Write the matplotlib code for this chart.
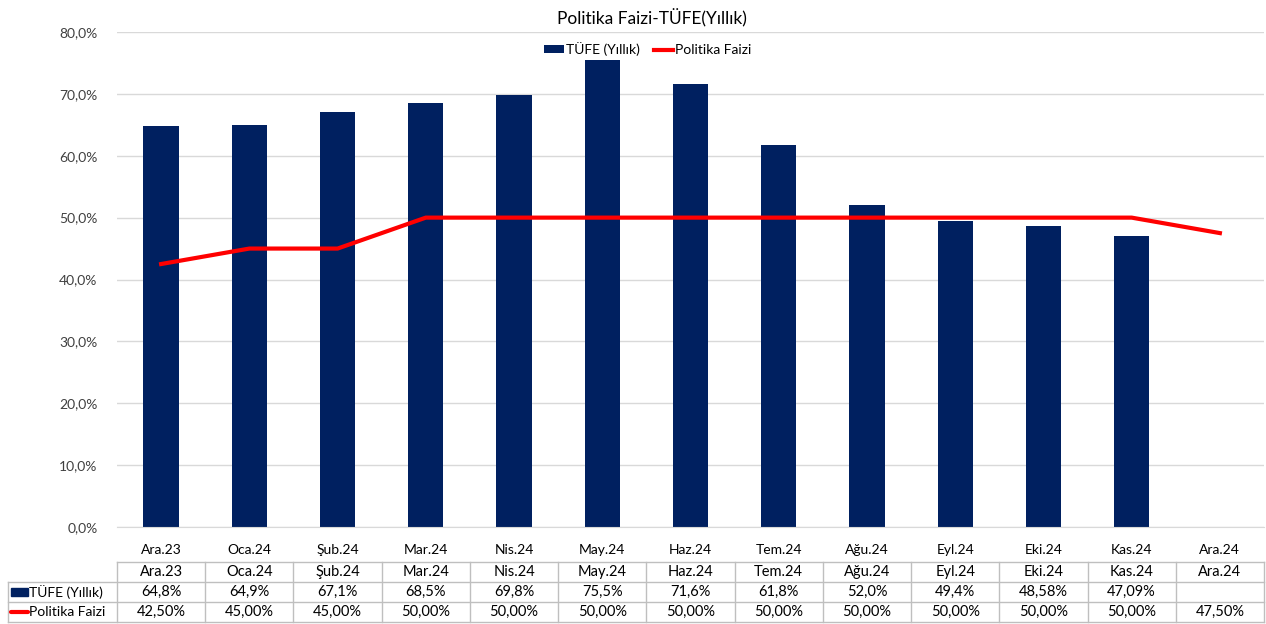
import numpy as np
import matplotlib.pyplot as plt
from matplotlib import transforms

plt.rcParams['font.family'] = ['Lato', 'DejaVu Sans']

# Veriler
aylar = ['Ara.23', 'Oca.24', 'Şub.24', 'Mar.24', 'Nis.24', 'May.24', 'Haz.24',
         'Tem.24', 'Ağu.24', 'Eyl.24', 'Eki.24', 'Kas.24', 'Ara.24']
tufe = [64.8, 64.9, 67.1, 68.5, 69.8, 75.5, 71.6, 61.8, 52.0, 49.4, 48.58, 47.09, np.nan]
faiz = [42.5, 45.0, 45.0, 50.0, 50.0, 50.0, 50.0, 50.0, 50.0, 50.0, 50.0, 50.0, 47.5]
tufe_txt = ['64,8%', '64,9%', '67,1%', '68,5%', '69,8%', '75,5%', '71,6%',
            '61,8%', '52,0%', '49,4%', '48,58%', '47,09%', '']
faiz_txt = ['42,50%', '45,00%', '45,00%', '50,00%', '50,00%', '50,00%', '50,00%',
            '50,00%', '50,00%', '50,00%', '50,00%', '50,00%', '47,50%']
yticks = [0, 10, 20, 30, 40, 50, 60, 70, 80]

lacivert = '#002060'
kirmizi = '#FF0000'
gri = '#BFBFBF'

W, H = 1266, 624
fig = plt.figure(figsize=(W / 100, H / 100), dpi=100)
ax = fig.add_axes([117 / W, (H - 527) / H, (1264 - 117) / W, (527 - 32) / H])

x = np.arange(len(aylar))
cubuk = ax.bar(x, tufe, width=0.4, color=lacivert, label='TÜFE (Yıllık)', zorder=2)
cizgi, = ax.plot(x, faiz, color=kirmizi, lw=3, label='Politika Faizi', zorder=3)

ax.set_xlim(-0.5, len(aylar) - 0.5)
ax.set_ylim(0, 80)
ax.set_yticks(yticks)
ax.set_yticklabels([f'{v},0%' for v in yticks], fontsize=10, color='#404040')
ax.grid(axis='y', color='#D9D9D9', lw=1)
ax.set_axisbelow(True)
ax.tick_params(axis='y', length=0, pad=14)
ax.set_xticks(x)
ax.set_xticklabels(aylar, fontsize=10, color='#000000')
ax.tick_params(axis='x', length=0, pad=12)
for s in ['top', 'right', 'left']:
    ax.spines[s].set_visible(False)
ax.spines['bottom'].set_color('#D9D9D9')

fig.text(652 / W, 1 - 18 / H, 'Politika Faizi-TÜFE(Yıllık)', fontsize=12.5,
         ha='center', va='center')
fig.legend([cubuk, cizgi], ['TÜFE (Yıllık)', 'Politika Faizi'], loc='center',
           bbox_to_anchor=(648 / W, 1 - 49 / H), ncol=2, frameon=False,
           fontsize=10, handlelength=1.4, handleheight=0.5, handletextpad=0.15,
           columnspacing=1.0, borderaxespad=0)

# Tablo
tr = transforms.blended_transform_factory(ax.transData, ax.transAxes)
px = lambda p: (527 - p) / 495.0
satirlar = [px(562), px(582), px(602), px(622)]
sol = -0.5 - 109 / 88.25
sag = len(aylar) - 0.5
lk = dict(color=gri, lw=1, transform=tr, clip_on=False)

ax.plot([-0.5, sag], [satirlar[0]] * 2, **lk)
for yy in satirlar[1:]:
    ax.plot([sol, sag], [yy] * 2, **lk)
for i in range(len(aylar) + 1):
    ax.plot([i - 0.5] * 2, [satirlar[0], satirlar[3]], **lk)
ax.plot([sol] * 2, [satirlar[1], satirlar[3]], **lk)

for i in range(len(aylar)):
    for r, metin in enumerate([aylar[i], tufe_txt[i], faiz_txt[i]]):
        ax.text(i, (satirlar[r] + satirlar[r + 1]) / 2, metin, transform=tr,
                ha='center', va='center', fontsize=10.5)

# satir etiketleri
y1 = (satirlar[1] + satirlar[2]) / 2
y2 = (satirlar[2] + satirlar[3]) / 2
ax.add_patch(plt.Rectangle((sol + 0.03, y1 - 0.008), 0.2, 0.016, color=lacivert,
                           transform=tr, clip_on=False))
ax.plot([sol + 0.03, sol + 0.23], [y2, y2], color=kirmizi, lw=3, transform=tr,
        clip_on=False, solid_capstyle='round')
ax.text(sol + 0.24, y1, 'TÜFE (Yıllık)', transform=tr, ha='left', va='center', fontsize=10)
ax.text(sol + 0.24, y2, 'Politika Faizi', transform=tr, ha='left', va='center', fontsize=10)

fig.savefig('out.png', dpi=100)
